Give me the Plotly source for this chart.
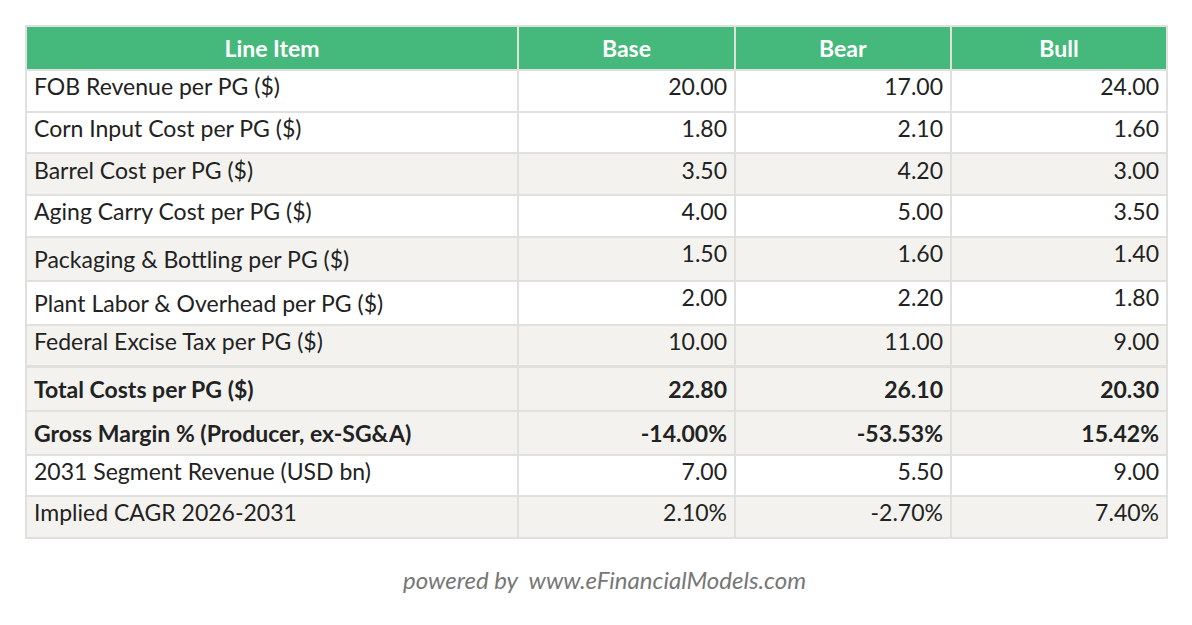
import plotly.graph_objects as go

headers = ["Line Item", "Base", "Bear", "Bull"]
items = ["FOB Revenue per PG ($)", "Corn Input Cost per PG ($)", "Barrel Cost per PG ($)",
         "Aging Carry Cost per PG ($)", "Packaging & Bottling per PG ($)",
         "Plant Labor & Overhead per PG ($)", "Federal Excise Tax per PG ($)",
         "<b>Total Costs per PG ($)</b>", "<b>Gross Margin % (Producer, ex-SG&A)</b>",
         "2031 Segment Revenue (USD bn)", "Implied CAGR 2026-2031"]
base = ["20.00", "1.80", "3.50", "4.00", "1.50", "2.00", "10.00", "<b>22.80</b>", "<b>-14.00%</b>", "7.00", "2.10%"]
bear = ["17.00", "2.10", "4.20", "5.00", "1.60", "2.20", "11.00", "<b>26.10</b>", "<b>-53.53%</b>", "5.50", "-2.70%"]
bull = ["24.00", "1.60", "3.00", "3.50", "1.40", "1.80", "9.00", "<b>20.30</b>", "<b>15.42%</b>", "9.00", "7.40%"]
shaded = [0, 0, 1, 0, 1, 0, 1, 1, 1, 0, 1]

W, H = 1192, 625
row_fill = ["#f3f2ef" if s else "#ffffff" for s in shaded]

fig = go.Figure(go.Table(
    domain=dict(x=[18 / W, 1159 / W], y=[0, 1 - 18 / H]),
    columnwidth=[492, 217, 216, 216],
    header=dict(values=[f"<b>{h}</b>" for h in headers],
                fill_color="#45b97c", line=dict(color="#e0e0de", width=2),
                font=dict(family="Lato", size=23, color="white"),
                align="center", height=41),
    cells=dict(values=[items, base, bear, bull],
               fill_color=[row_fill] * 4, line=dict(color="#e0e0de", width=2),
               font=dict(family="Lato", size=23, color="#222222"),
               align=["left", "right", "right", "right"], height=41.7),
))
fig.add_annotation(text="<i>powered by  www.eFinancialModels.com</i>", x=0.5, y=(625 - 588) / H,
                   xref="paper", yref="paper", showarrow=False,
                   font=dict(family="Lato", size=24, color="#777777"))
fig.update_layout(width=W, height=H, margin=dict(l=0, r=0, t=0, b=0),
                  paper_bgcolor="white", plot_bgcolor="white")
fig.write_html("out.html")
